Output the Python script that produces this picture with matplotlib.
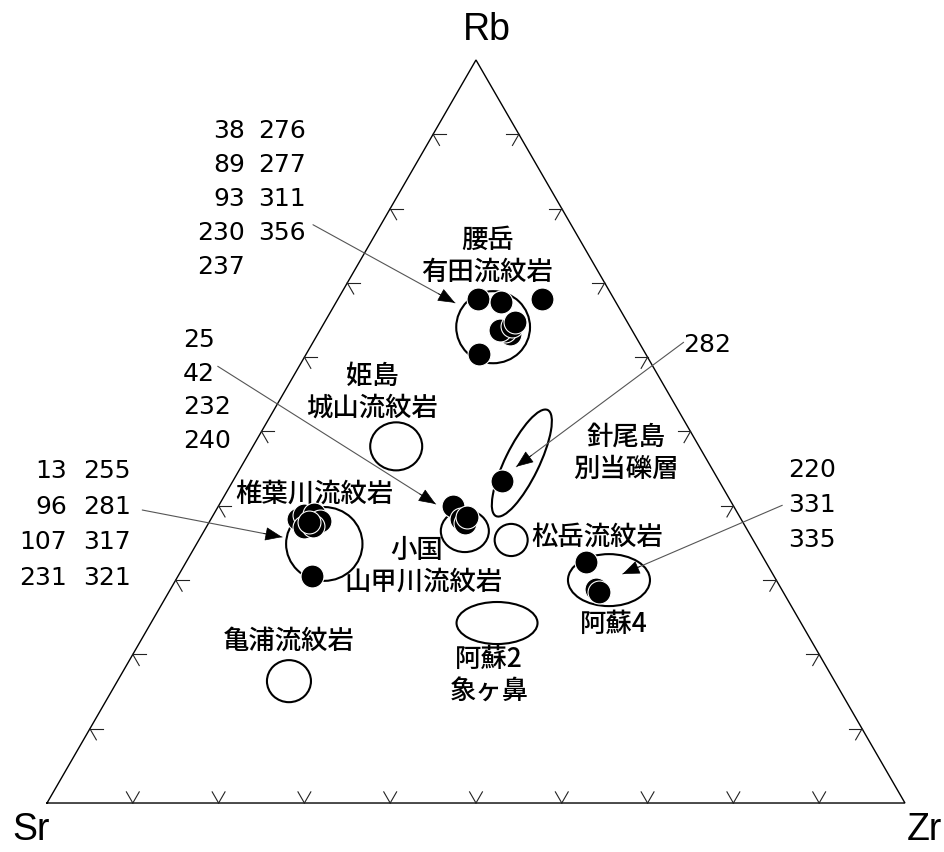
import numpy as np
import matplotlib
matplotlib.use("Agg")
import matplotlib.pyplot as plt
from matplotlib.patches import Ellipse

plt.rcParams['font.family'] = ['Noto Sans CJK JP', 'DejaVu Sans']

# — DATA: compositions as (Rb, Sr, Zr) percent —
yamadake_pts = [(67.7, 15.9, 16.3), (67.4, 13.4, 19.2), (67.8, 8.4, 23.7),
                (60.4, 19.5, 20.1), (63.1, 14.5, 22.4), (63.5, 14.9, 21.6),
                (63.6, 15.4, 21.0), (64.2, 13.7, 22.1), (64.7, 13.1, 22.2)]
shiibagawa_pts = [(38.2, 51.6, 10.1), (38.8, 50.7, 10.6), (38.9, 49.4, 11.7),
                  (38.0, 49.2, 12.8), (37.1, 51.5, 11.4), (37.3, 50.4, 12.4),
                  (37.8, 50.6, 11.6), (30.6, 53.8, 15.6)]
oguni_pts = [(40.0, 32.7, 27.3), (38.2, 32.6, 29.1), (37.7, 32.4, 29.9),
             (38.5, 31.8, 29.7)]
hario_pts = [(43.3, 25.3, 31.4)]
aso4_pts = [(32.4, 21.0, 46.6), (28.8, 21.6, 49.6), (28.4, 21.5, 50.1)]

# reference fields: centre composition (Rb, Sr, Zr), width, height, angle
field_centers = [(64.1, 16.0, 20.0), (34.9, 50.3, 14.9), (36.6, 33.0, 30.4),
                 (35.4, 28.2, 36.4), (45.8, 21.8, 32.5), (30.0, 19.5, 50.5),
                 (48.0, 35.3, 16.7), (24.2, 35.4, 40.3), (16.4, 63.6, 20.0)]
field_sizes = [(8.6, 8.4, 0), (8.9, 8.6, 0), (5.6, 4.9, 0),
               (3.85, 3.75, 0), (13.75, 3.96, 64), (9.56, 6.06, 0),
               (6.06, 5.6, 0), (9.44, 4.9, 0), (5.13, 4.9, 0)]

# rock names (text, x, y)
rock_labels = [("腰岳", 51.3, 65.7), ("有田流紋岩", 51.3, 62.0),
               ("姫島", 37.9, 49.8), ("城山流紋岩", 37.9, 46.15),
               ("針尾島", 67.5, 42.8), ("別当礫層", 67.5, 39.0),
               ("椎葉川流紋岩", 31.2, 36.1), ("松岳流紋岩", 64.1, 31.1),
               ("小国", 43.1, 29.6), ("山甲川流紋岩", 43.9, 25.9),
               ("阿蘇4", 66.1, 20.9), ("亀浦流紋岩", 28.2, 19.0),
               ("阿蘇2", 51.5, 16.8), ("象ヶ鼻", 51.6, 13.05)]

# sample numbers
block1_a = ["38", "89", "93", "230", "237"]
block1_b = ["276", "277", "311", "356", ""]
block2 = ["25", "42", "232", "240"]
block3_a = ["13", "96", "107", "231"]
block3_b = ["255", "281", "317", "321"]
block4 = ["220", "331", "335"]

# arrows: (start, tip)
arrows = [((31.0, 67.4), (47.55, 58.3)),
          ((19.9, 50.9), (45.3, 34.85)),
          ((74.2, 53.7), (54.7, 39.2)),
          ((11.1, 34.15), (27.4, 31.0)),
          ((85.7, 34.7), (67.1, 26.7))]

H = np.sqrt(3) / 2


def tern(rb, sr, zr):
    s = rb + sr + zr
    rb, zr = rb / s * 100, zr / s * 100
    return zr + rb / 2, rb * H


fig = plt.figure(figsize=(9.44, 8.53), dpi=100)
ax = fig.add_axes([0, 0, 1, 1])
ax.set_xlim(-5.48, 104.55)
ax.set_ylim(-5.71, 93.71)
ax.axis("off")

# triangle frame
ax.plot([0, 100, 50, 0], [0, 0, 100 * H, 0], color="black", lw=1.0,
        solid_joinstyle="miter")

# chevron ticks on each edge
arm = 1.5
corners = np.array([[0, 0], [100, 0], [50, 100 * H]])
edges = [(corners[0], corners[1], (60, 120)),
         (corners[1], corners[2], (180, 240)),
         (corners[2], corners[0], (0, -60))]
for a, b, angs in edges:
    for f in np.arange(1, 10) / 10:
        p = a + (b - a) * f
        for ang in angs:
            t = np.radians(ang)
            ax.plot([p[0], p[0] + arm * np.cos(t)], [p[1], p[1] + arm * np.sin(t)],
                    color="#222222", lw=0.8)

# fields
for c, (w, h, ang) in zip(field_centers, field_sizes):
    ax.add_patch(Ellipse(tern(*c), w, h, angle=ang, fill=False,
                         edgecolor="black", lw=1.5, zorder=3))

# sample points
for grp in [yamadake_pts, shiibagawa_pts, oguni_pts, hario_pts, aso4_pts]:
    for pt in grp:
        x, y = tern(*pt)
        ax.plot(x, y, "o", ms=16.5, mfc="black", mec="white", mew=0.8, zorder=4)

# arrows: grey shaft, black head
for start, tip in arrows:
    ax.annotate("", xy=tip, xytext=start,
                arrowprops=dict(arrowstyle="-", color="#555555", lw=0.8,
                                shrinkA=0, shrinkB=0), zorder=5)
    d = np.subtract(tip, start)
    d = d / np.hypot(*d)
    ax.annotate("", xy=tip, xytext=np.asarray(tip) - d * 2.2,
                arrowprops=dict(arrowstyle="-|>,head_length=0.55,head_width=0.22",
                                color="black", lw=0.5, mutation_scale=20,
                                shrinkA=0, shrinkB=0), zorder=5)

# vertex labels
vfont = dict(family=["Liberation Sans", "DejaVu Sans"], fontsize=27)
ax.text(51.3, 90.2, "Rb", ha="center", va="center", **vfont)
ax.text(-1.9, -3.0, "Sr", ha="center", va="center", **vfont)
ax.text(102.3, -3.0, "Zr", ha="center", va="center", **vfont)

for txt, x, y in rock_labels:
    ax.text(x, y, txt, ha="center", va="center", fontsize=19, fontweight="medium")

nf = dict(family=["DejaVu Sans"], fontsize=18, va="center")
for i, (a, b) in enumerate(zip(block1_a, block1_b)):
    y = 78.44 - i * 3.96
    ax.text(23.1, y, a, ha="right", **nf)
    ax.text(24.6, y, b, ha="left", **nf)
for i, a in enumerate(block2):
    ax.text(15.85, 54.08 - i * 3.93, a, ha="left", **nf)
for i, (a, b) in enumerate(zip(block3_a, block3_b)):
    y = 38.81 - i * 4.16
    ax.text(2.33, y, a, ha="right", **nf)
    ax.text(4.2, y, b, ha="left", **nf)
for i, a in enumerate(block4):
    ax.text(86.36, 38.93 - i * 4.08, a, ha="left", **nf)
ax.text(74.13, 53.5, "282", ha="left", **nf)

fig.savefig("out.png", dpi=100)
